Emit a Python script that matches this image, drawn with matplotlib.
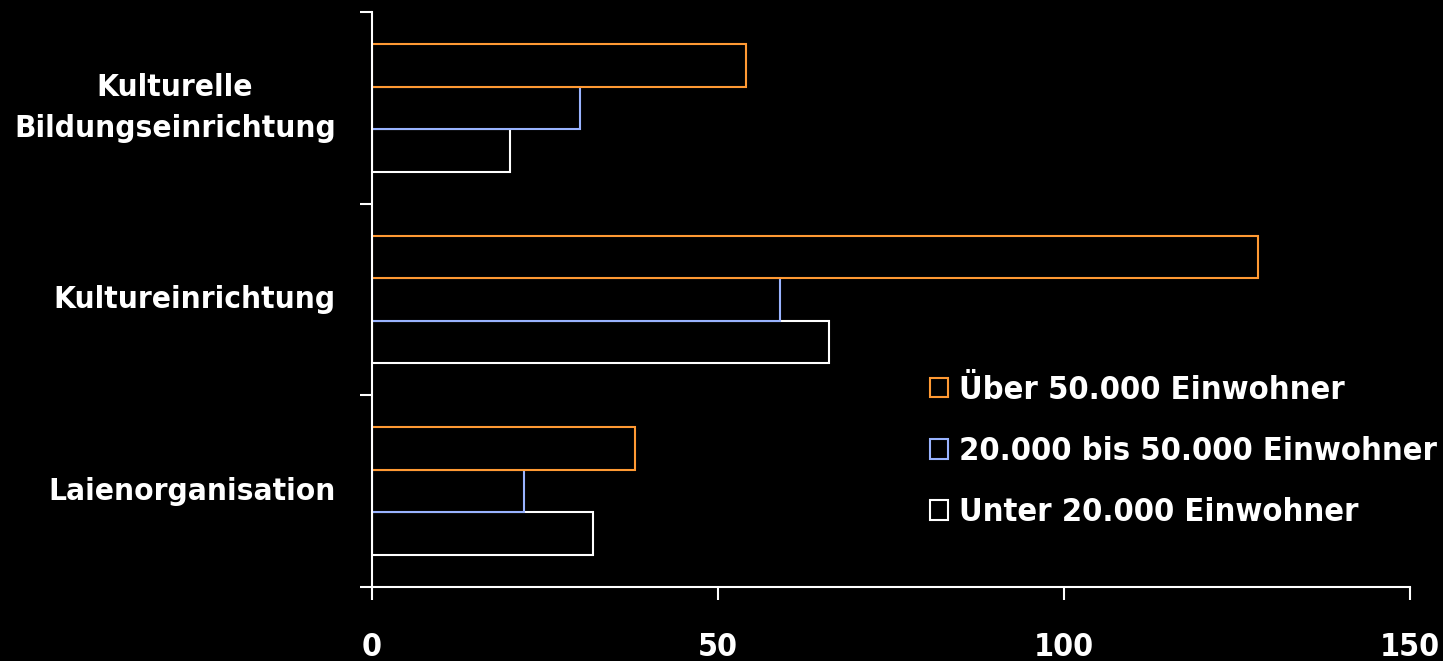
import matplotlib
matplotlib.use("Agg")
import matplotlib.pyplot as plt
import numpy as np

categories = ["Kulturelle\nBildungseinrichtung", "Kultureinrichtung", "Laienorganisation"]
series_names = ["Über 50.000 Einwohner", "20.000 bis 50.000 Einwohner", "Unter 20.000 Einwohner"]
ueber_50000 = [54, 128, 38]
von_20000_bis_50000 = [30, 59, 22]
unter_20000 = [20, 66, 32]
x_ticks = [0, 50, 100, 150]

colors = ["#FF9933", "#99B3FF", "#FFFFFF"]
values = [ueber_50000, von_20000_bis_50000, unter_20000]

plt.rcParams['font.family'] = ['DejaVu Sans']
plt.rcParams['font.stretch'] = 'condensed'
plt.rcParams['font.weight'] = 'bold'
fs_cat = 22.6
fs_tick = 23
fs_leg = 23.4

fig = plt.figure(figsize=(14.43, 6.61), dpi=100, facecolor="black")
ax = fig.add_axes([372/1443, (661-587)/661, (1410-372)/1443, (587-12)/661])
ax.set_facecolor("black")

pos = np.arange(len(categories))
h = 2/9
offsets = [-h, 0, h]
handles = [None]*3
for i in [2, 1, 0]:
    bars = ax.barh(pos + offsets[i], values[i], height=h, left=0,
                   facecolor="black", edgecolor=colors[i], linewidth=1.5,
                   label=series_names[i])
    handles[i] = bars

ax.set_xlim(0, 150)
ax.set_ylim(2.5, -0.5)
ax.set_xticks(x_ticks)
ax.set_xticklabels([str(t) for t in x_ticks])
ax.set_yticks([-0.5, 0.5, 1.5, 2.5])
ax.set_yticklabels([])
ax.set_yticks(pos, minor=True)
ax.set_yticklabels(categories, minor=True, ha="right", va="center",
                   multialignment="center", linespacing=1.55)

for s in ["top", "right"]:
    ax.spines[s].set_visible(False)
for s in ["left", "bottom"]:
    ax.spines[s].set_color("white")
    ax.spines[s].set_linewidth(1.5)

ax.tick_params(axis="x", which="major", colors="white", length=9.5, width=1.5,
               direction="out", pad=23, labelsize=fs_tick)
ax.tick_params(axis="y", which="major", colors="white", length=9, width=1.5, direction="out")
ax.tick_params(axis="y", which="minor", length=0, pad=26, labelsize=fs_cat, labelcolor="white")

leg = ax.legend(handles=handles, labels=series_names, loc="upper left",
                bbox_to_anchor=((930-372)/1038, (587-375)/575),
                frameon=False, fontsize=fs_leg, handlelength=0.55, handleheight=0.55,
                handletextpad=0.33, labelspacing=0.93, borderpad=0, borderaxespad=0)
for t in leg.get_texts():
    t.set_color("white")

fig.savefig("out.png", dpi=100, facecolor="black")
